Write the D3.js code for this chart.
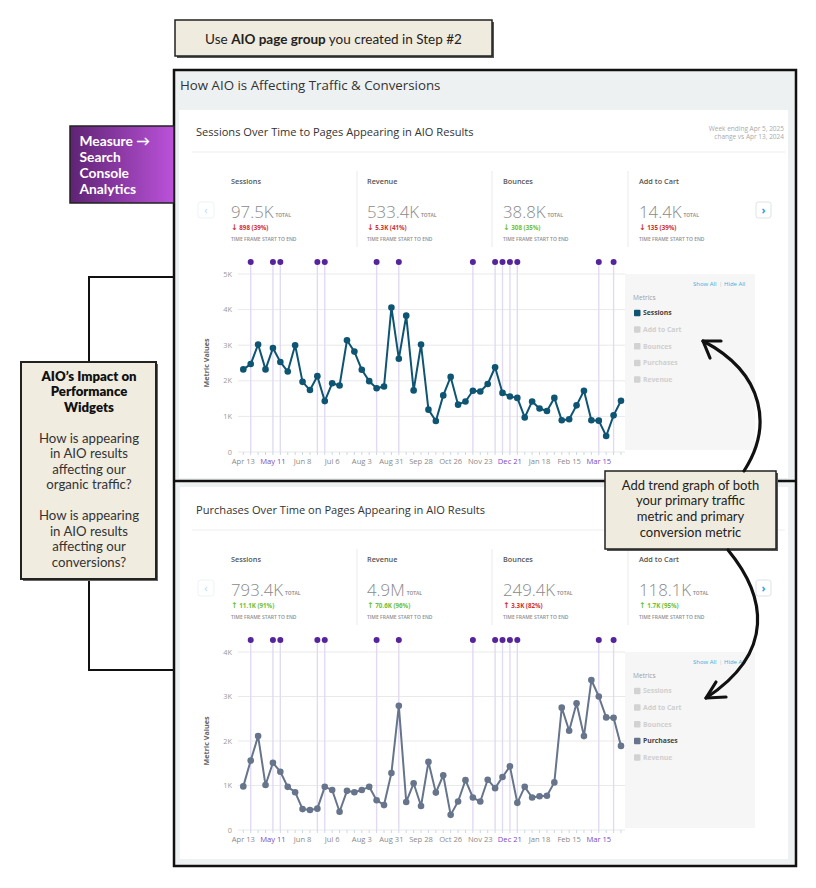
<!DOCTYPE html>
<html><head><meta charset="utf-8">
<script src="https://cdn.jsdelivr.net/npm/d3@7"></script>
<style>body{margin:0;background:#fff;} svg{display:block;}</style>
</head><body><svg id="c" width="816" height="888"></svg>
<script>
// ---------- DATA ----------
const weeks = ["Apr 13","Apr 20","Apr 27","May 4","May 11","May 18","May 25","Jun 1","Jun 8","Jun 15","Jun 22","Jun 29","Jul 6","Jul 13","Jul 20","Jul 27","Aug 3","Aug 10","Aug 17","Aug 24","Aug 31","Sep 7","Sep 14","Sep 21","Sep 28","Oct 5","Oct 12","Oct 19","Oct 26","Nov 2","Nov 9","Nov 16","Nov 23","Nov 30","Dec 7","Dec 14","Dec 21","Dec 28","Jan 4","Jan 11","Jan 18","Jan 25","Feb 1","Feb 8","Feb 15","Feb 22","Mar 1","Mar 8","Mar 15","Mar 22","Mar 29","Apr 5"];
const tickWeeks = ["Apr 13","May 11","Jun 8","Jul 6","Aug 3","Aug 31","Sep 28","Oct 26","Nov 23","Dec 21","Jan 18","Feb 15","Mar 15"];
const eventWeeks = ["Apr 20","May 11","May 18","Jun 22","Jun 29","Aug 17","Sep 7","Nov 16","Dec 7","Dec 14","Dec 21","Dec 28","Mar 15","Mar 29"];
const sessions = [2320,2470,3020,2320,2920,2530,2260,3000,1970,1740,2130,1430,1930,1870,3140,2820,2310,1990,1790,1840,4060,2620,3830,1730,3020,1190,870,1590,2110,1330,1420,1720,1700,1910,2380,1660,1560,1520,970,1420,1220,1150,1520,890,920,1310,1720,890,880,450,1030,1440];
const purchases = [980,1560,2110,1010,1510,1310,970,850,470,450,480,970,900,410,880,850,900,970,670,560,1280,2790,630,1050,540,1530,840,1230,340,640,1120,730,640,1130,940,1190,1430,610,970,730,760,770,1070,2750,2230,2850,2110,3370,3000,2530,2520,1890];
const yTicksTop = [0,1000,2000,3000,4000,5000];
const yTicksBottom = [0,1000,2000,3000,4000];
const kpiNames = ["Sessions","Revenue","Bounces","Add to Cart"];
const kpiTopTotals = ["97.5K","533.4K","38.8K","14.4K"];
const kpiTopChanges = ["898 (39%)","5.3K (41%)","308 (35%)","135 (39%)"];
const kpiTopGood = [false,false,true,false];
const kpiBottomTotals = ["793.4K","4.9M","249.4K","118.1K"];
const kpiBottomChanges = ["11.1K (91%)","70.6K (96%)","3.3K (82%)","1.7K (95%)"];
const kpiBottomGood = [true,true,false,true];
const legendMetrics = ["Sessions","Add to Cart","Bounces","Purchases","Revenue"];

// ---------- DRAW ----------
const svg = d3.select("#c");
const F = "'Open Sans', sans-serif";
const A = "Lato, 'Noto Sans', sans-serif";
const fmtK = v => v === 0 ? "0" : (v/1000) + "K";

// top note
svg.append("rect").attr("x",177).attr("y",22).attr("width",317).attr("height",36).attr("fill","#555");
svg.append("rect").attr("x",175).attr("y",20).attr("width",317).attr("height",36)
  .attr("fill","#efebde").attr("stroke","#222").attr("stroke-width",1.5);
const nt = svg.append("text").attr("x",333.5).attr("y",43.5).attr("text-anchor","middle")
  .attr("font-family",A).attr("font-size",13.5).attr("fill","#222");
nt.append("tspan").text("Use ");
nt.append("tspan").attr("font-weight","bold").text("AIO page group");
nt.append("tspan").text(" you created in Step #2");

// connector lines (left)
svg.append("path").attr("d","M173,277 H89 V363 M89,579 V670 H173")
  .attr("fill","none").attr("stroke","#111").attr("stroke-width",2);

// main frame
svg.append("rect").attr("x",174).attr("y",70).attr("width",622).attr("height",796)
  .attr("fill","#eef1f1").attr("stroke","#111").attr("stroke-width",2.5);
svg.append("text").attr("x",180).attr("y",90).attr("font-family",F).attr("font-size",13.3)
  .attr("fill","#333").text("How AIO is Affecting Traffic & Conversions");
svg.append("rect").attr("x",179).attr("y",110).attr("width",609).attr("height",368).attr("fill","#fff");
svg.append("rect").attr("x",180).attr("y",487).attr("width",608).attr("height",372).attr("fill","#fff");
svg.append("line").attr("x1",174).attr("x2",796).attr("y1",481).attr("y2",481)
  .attr("stroke","#111").attr("stroke-width",2.5);

function chart(cfg) {
  const g = svg.append("g").attr("transform",`translate(0,${cfg.dy})`);
  g.append("text").attr("x",196).attr("y",136).attr("font-family",F).attr("font-size",11.1)
    .attr("fill","#333").text(cfg.title);
  g.append("line").attr("x1",192).attr("x2",785).attr("y1",152).attr("y2",152)
    .attr("stroke","#eee").attr("stroke-width",1);
  if (cfg.note) {
    cfg.note.forEach((t,i) => g.append("text").attr("x",784).attr("y",131+i*7.5)
      .attr("text-anchor","end").attr("font-family",F).attr("font-size",6.5).attr("fill","#aaa").text(t));
  }
  // KPI columns
  const kx = [231,367,503,639];
  [357,492,628].forEach(x => g.append("line").attr("x1",x).attr("x2",x).attr("y1",171).attr("y2",247)
    .attr("stroke","#eaeaea"));
  kpiNames.forEach((n,i) => {
    g.append("text").attr("x",kx[i]).attr("y",184).attr("font-family",F).attr("font-size",7.3)
      .attr("font-weight",600).attr("fill","#555").text(n);
    const big = g.append("text").attr("x",kx[i]).attr("y",218).attr("font-family",F).attr("font-size",16.8)
      .attr("font-weight",300).attr("fill","#8a8a8a").text(cfg.totals[i]);
    const w = big.node().getComputedTextLength();
    g.append("text").attr("x",kx[i]+w+2).attr("y",217).attr("font-family",F).attr("font-size",4.8)
      .attr("font-weight",700).attr("fill","#999").text("TOTAL");
    const col = cfg.good[i] ? "#6cbf3a" : "#d22f2f";
    const ch = g.append("text").attr("x",kx[i]).attr("y",230).attr("font-family",F).attr("font-size",6.2)
      .attr("font-weight",700).attr("fill",col);
    ch.append("tspan").attr("font-size",8).attr("font-family","'DejaVu Sans', sans-serif")
      .text(cfg.up ? "\u2191" : "\u2193");
    ch.append("tspan").text(" " + cfg.changes[i]);
    g.append("text").attr("x",kx[i]).attr("y",240.5).attr("font-family",F).attr("font-size",5)
      .attr("font-weight",600).attr("fill","#8e8e8e").text("TIME FRAME START TO END");
  });
  // chevrons
  g.append("rect").attr("x",198).attr("y",202).attr("width",16).attr("height",16).attr("rx",2.5)
    .attr("fill","#fff").attr("stroke","#edf3f6");
  g.append("text").attr("x",206).attr("y",213.5).attr("text-anchor","middle").attr("font-family",F)
    .attr("font-size",11).attr("fill","#b5dcee").text("\u2039");
  g.append("rect").attr("x",756).attr("y",202).attr("width",15).attr("height",16).attr("rx",2.5)
    .attr("fill","#fff").attr("stroke","#dde3e6");
  g.append("text").attr("x",763.5).attr("y",213.5).attr("text-anchor","middle").attr("font-family",F)
    .attr("font-size",11).attr("font-weight",700).attr("fill","#2aa4dc").text("\u203A");

  // plot
  const x = d3.scaleLinear().domain([0, weeks.length-1]).range([243.3, 621]);
  const y = d3.scaleLinear().domain([0, cfg.yMax]).range([452, 274]);
  const idx = w => weeks.indexOf(w);
  cfg.yTicks.forEach(t => {
    g.append("line").attr("x1",238).attr("x2",625).attr("y1",y(t)).attr("y2",y(t))
      .attr("stroke","#e9e9e9").attr("stroke-width",1);
    g.append("text").attr("x",232).attr("y",y(t)+2.6).attr("text-anchor","end").attr("font-family",F)
      .attr("font-size",7.4).attr("fill","#9a9a9a").text(fmtK(t));
  });
  g.append("text").attr("transform",`translate(209,${(y(0)+y(cfg.yMax))/2}) rotate(-90)`)
    .attr("text-anchor","middle").attr("font-family",F).attr("font-size",7.2).attr("font-weight",700)
    .attr("fill","#666").text("Metric Values");
  // week ticks
  weeks.forEach((w,i) => g.append("line").attr("x1",x(i)).attr("x2",x(i)).attr("y1",452).attr("y2",455)
    .attr("stroke","#c9d9e6").attr("stroke-width",1));
  tickWeeks.forEach(w => g.append("text").attr("x",x(idx(w))).attr("y",464).attr("text-anchor","middle")
    .attr("font-family",F).attr("font-size",7.6)
    .attr("fill", eventWeeks.includes(w) ? "#7b4cc4" : "#8a8a8a").text(w));
  // events
  eventWeeks.forEach(w => {
    g.append("line").attr("x1",x(idx(w))).attr("x2",x(idx(w))).attr("y1",262).attr("y2",452)
      .attr("stroke","#e2daf2").attr("stroke-width",1.4);
    g.append("circle").attr("cx",x(idx(w))).attr("cy",262).attr("r",3).attr("fill","#55249a");
  });
  // line
  const line = d3.line().x((d,i) => x(i)).y(d => y(d));
  g.append("path").datum(cfg.values).attr("d",line).attr("fill","none")
    .attr("stroke",cfg.color).attr("stroke-width",2).attr("stroke-linejoin","round");
  g.selectAll(null).data(cfg.values).join("circle").attr("cx",(d,i)=>x(i)).attr("cy",d=>y(d))
    .attr("r",3.3).attr("fill",cfg.color);

  // legend panel
  g.append("rect").attr("x",625).attr("y",274).attr("width",130).attr("height",176).attr("fill","#f6f6f6");
  g.append("text").attr("x",693).attr("y",285.5).attr("font-family",F).attr("font-size",6).attr("fill","#39b0e0").text("Show All");
  g.append("text").attr("x",719).attr("y",285.5).attr("font-family",F).attr("font-size",6).attr("fill","#ccc").text("|");
  g.append("text").attr("x",724).attr("y",285.5).attr("font-family",F).attr("font-size",6).attr("fill","#39b0e0").text("Hide All");
  g.append("text").attr("x",633).attr("y",299.5).attr("font-family",F).attr("font-size",6.6).attr("fill","#a0a0a0").text("Metrics");
  legendMetrics.forEach((m,i) => {
    const yy = 312.7 + i*16.65;
    const on = m === cfg.metric;
    g.append("rect").attr("x",634).attr("y",yy-3).attr("width",6.5).attr("height",6.5).attr("rx",1)
      .attr("fill", on ? cfg.color : "#d2d2d2");
    g.append("text").attr("x",643).attr("y",yy+2.5).attr("font-family",F).attr("font-size",6.8)
      .attr("font-weight",700).attr("fill", on ? "#444" : "#cfcfcf").text(m);
  });
}

chart({dy:0, title:"Sessions Over Time to Pages Appearing in AIO Results",
  note:["Week ending Apr 5, 2025","change vs Apr 13, 2024"],
  totals:kpiTopTotals, changes:kpiTopChanges, good:kpiTopGood, up:false,
  values:sessions, yMax:5000, yTicks:yTicksTop, color:"#0e5473", metric:"Sessions"});
chart({dy:378, title:"Purchases Over Time on Pages Appearing in AIO Results",
  totals:kpiBottomTotals, changes:kpiBottomChanges, good:kpiBottomGood, up:true,
  values:purchases, yMax:4000, yTicks:yTicksBottom, color:"#66758b", metric:"Purchases"});

// purple box
const grad = svg.append("defs").append("linearGradient").attr("id","pg");
grad.append("stop").attr("offset","0%").attr("stop-color","#5e2373");
grad.append("stop").attr("offset","100%").attr("stop-color","#bb52da");
svg.append("rect").attr("x",70).attr("y",126).attr("width",104).attr("height",77)
  .attr("fill","url(#pg)").attr("stroke","#222").attr("stroke-width",1.5);
["Measure \u2192","Search","Console","Analytics"].forEach((t,i) =>
  svg.append("text").attr("x",79.5).attr("y",146+i*16).attr("font-family",A).attr("font-size",13.8)
    .attr("font-weight",700).attr("fill","#fff").text(t));

// left beige box
svg.append("rect").attr("x",23).attr("y",364).attr("width",135).attr("height",217).attr("fill","#666");
svg.append("rect").attr("x",21).attr("y",362).attr("width",135).attr("height",217)
  .attr("fill","#f0ece0").attr("stroke","#222").attr("stroke-width",2);
const leftLines = [["AIO\u2019s Impact on",1],["Performance",1],["Widgets",1],["",0],["How is appearing",0],["in AIO results",0],["affecting our",0],["organic traffic?",0],["",0],["How is appearing",0],["in AIO results",0],["affecting our",0],["conversions?",0]];
leftLines.forEach((l,i) => svg.append("text").attr("x",89).attr("y",380.5+i*15.5).attr("text-anchor","middle")
  .attr("font-family",A).attr("font-size",13.2).attr("font-weight",l[1]?800:400)
  .attr("fill",l[1]?"#111":"#333").text(l[0]));

// right beige box
svg.append("rect").attr("x",607).attr("y",473).attr("width",171).attr("height",78).attr("fill","#555");
svg.append("rect").attr("x",605).attr("y",471).attr("width",171).attr("height",78)
  .attr("fill","#efebde").attr("stroke","#222").attr("stroke-width",1.5);
["Add trend graph of both","your primary traffic","metric and primary","conversion metric"].forEach((t,i) =>
  svg.append("text").attr("x",690.5).attr("y",489.5+i*15.7).attr("text-anchor","middle")
    .attr("font-family",A).attr("font-size",13).attr("fill","#222").text(t));

// arrows
const arrows = svg.append("g").attr("fill","none").attr("stroke","#111").attr("stroke-width",3.2)
  .attr("stroke-linecap","round").attr("stroke-linejoin","round");
arrows.append("path").attr("d","M744,471 C772,428 766,374 703,341");
arrows.append("path").attr("d","M721,341 L703,341 L710,358");
arrows.append("path").attr("d","M728,550 C766,596 776,652 706,698");
arrows.append("path").attr("d","M716,682 L706,698 L726,697");
</script></body></html>
